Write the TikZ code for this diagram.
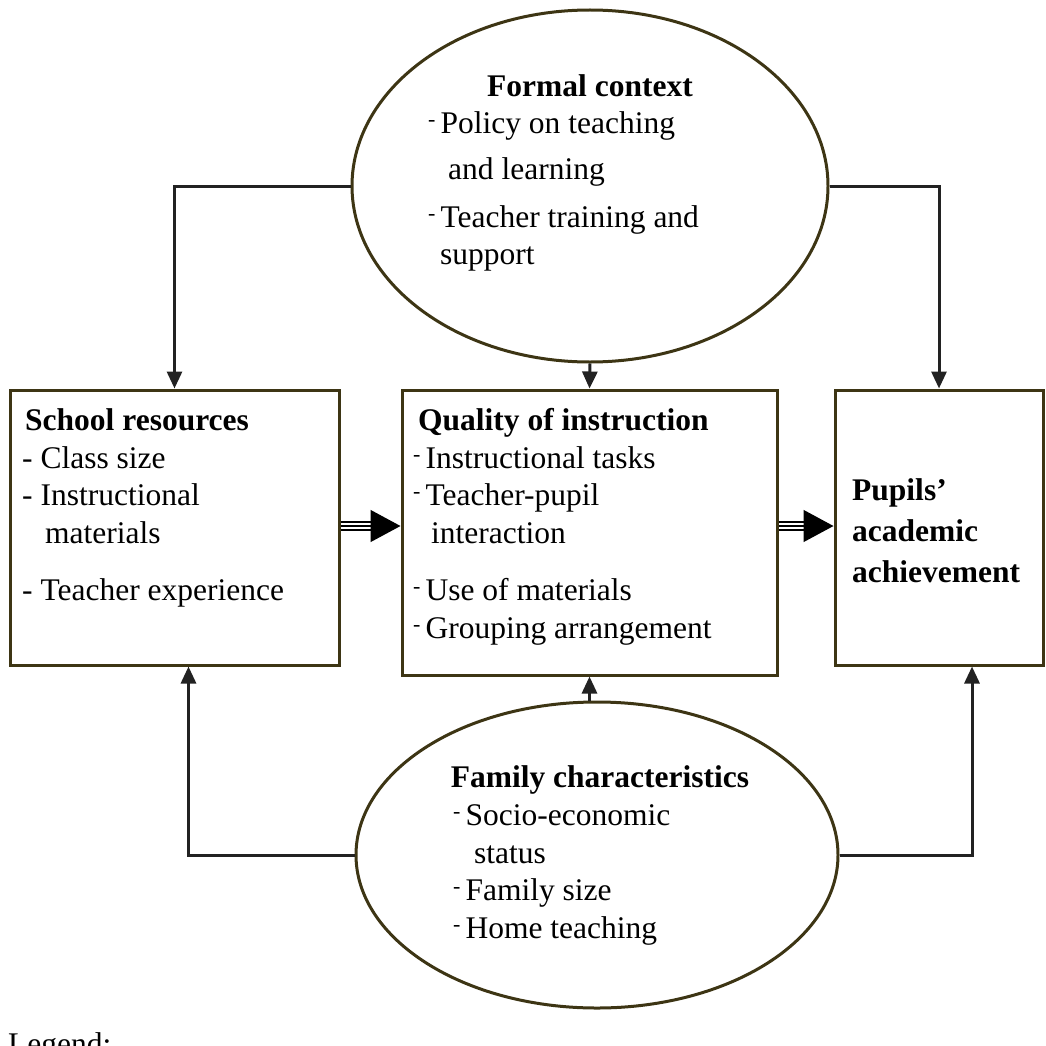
\documentclass[tikz,border=0pt]{standalone}
\usepackage{fontspec}
\setmainfont{Liberation Serif}
\usetikzlibrary{arrows.meta,shapes.geometric}
\definecolor{rim}{HTML}{3D3514}
\definecolor{wire}{HTML}{222222}
\newcommand\hy{\raisebox{.42ex}{\fontsize{22}{22}\selectfont -}\hspace{5pt}}
\tikzset{
  oval/.style={draw=rim, line width=3pt, ellipse, inner sep=0pt},
  panel/.style={draw=rim, line width=3pt, rectangle, inner sep=0pt},
  head/.style={anchor=base west, inner sep=0pt, font=\fontsize{31.5}{37}\selectfont\bfseries},
  item/.style={anchor=base west, inner sep=0pt, font=\fontsize{31.5}{37}\selectfont},
  conn/.style={draw=wire, line width=3pt, -{Triangle[length=17pt,width=15pt]}},
  rail/.style={draw=black, line width=1.3pt},
  bigtip/.style={draw=black, line width=1.3pt, -{Triangle[length=30pt,width=32pt]}}
}
\begin{document}
\begin{tikzpicture}[x=1pt,y=-1pt]
\useasboundingbox (0,0) rectangle (1046,1046);

% ellipses and boxes
\node[oval, minimum width=476pt, minimum height=352pt] (formal) at (590,186) {};
\node[oval, minimum width=482pt, minimum height=306pt] (family) at (597,855) {};
\node[panel, minimum width=329pt, minimum height=275pt] (school) at (174.5,527.5) {};
\node[panel, minimum width=375pt, minimum height=285pt] (quality) at (589.5,532.5) {};
\node[panel, minimum width=208pt, minimum height=275pt] (pupils) at (939,527.5) {};

% formal context text
\node[head, anchor=base] (fc) at (590,97) {Formal context};
\node[item] (fc1) at (428,133) {\hy Policy on teaching};
\node[item] (fc2) at (448,179) {and learning};
\node[item] (fc3) at (428,227) {\hy Teacher training and};
\node[item] (fc4) at (440,264) {support};

% school resources text
\node[head] (sr) at (25,430) {School resources};
\node[item] (sr1) at (22,468) {- Class size};
\node[item] (sr2) at (22,505) {- Instructional};
\node[item] (sr3) at (45,543) {materials};
\node[item] (sr4) at (22,600) {- Teacher experience};

% quality of instruction text
\node[head] (qi) at (418,430) {Quality of instruction};
\node[item] (qi1) at (413,468) {\hy Instructional tasks};
\node[item] (qi2) at (413,505) {\hy Teacher-pupil};
\node[item] (qi3) at (431,543) {interaction};
\node[item] (qi4) at (413,600) {\hy Use of materials};
\node[item] (qi5) at (413,638) {\hy Grouping arrangement};

% outcome text
\node[head] (pa1) at (852,500) {Pupils'};
\node[head] (pa2) at (852,541) {academic};
\node[head] (pa3) at (852,582) {achievement};

% family characteristics text
\node[head, anchor=base] (fa) at (600,787) {Family characteristics};
\node[item] (fa1) at (453,825) {\hy Socio-economic};
\node[item] (fa2) at (474,863) {status};
\node[item] (fa3) at (453,900) {\hy Family size};
\node[item] (fa4) at (453,938) {\hy Home teaching};

\node[item] (legend) at (8,1054) {Legend:};

% influences of the formal context
\draw[conn] (formal.west) -| (school.north);
\draw[conn] (formal.east) -| (pupils.north);
\draw[conn] (formal.south) -- (quality.north);

% influences of the family
\draw[conn] (family.west) -| ([xshift=14pt]school.south);
\draw[conn] (family.east) -| ([xshift=33pt]pupils.south);
\draw[conn] (quality.south |- family.north) -- (quality.south);

% main chain: resources -> instruction -> achievement
\coordinate (lane) at (0,526);
\coordinate (s1) at (school.east |- lane);
\coordinate (q1) at (quality.west |- lane);
\coordinate (q2) at (quality.east |- lane);
\coordinate (p1) at (pupils.west |- lane);
\draw[rail] ([yshift=-4pt]s1) -- ([yshift=-4pt,xshift=-30pt]q1);
\draw[rail] ([yshift=4pt]s1) -- ([yshift=4pt,xshift=-30pt]q1);
\draw[bigtip] (s1) -- (q1);
\draw[rail] ([yshift=-4pt]q2) -- ([yshift=-4pt,xshift=-30pt]p1);
\draw[rail] ([yshift=4pt]q2) -- ([yshift=4pt,xshift=-30pt]p1);
\draw[bigtip] (q2) -- (p1);
\end{tikzpicture}
\end{document}
